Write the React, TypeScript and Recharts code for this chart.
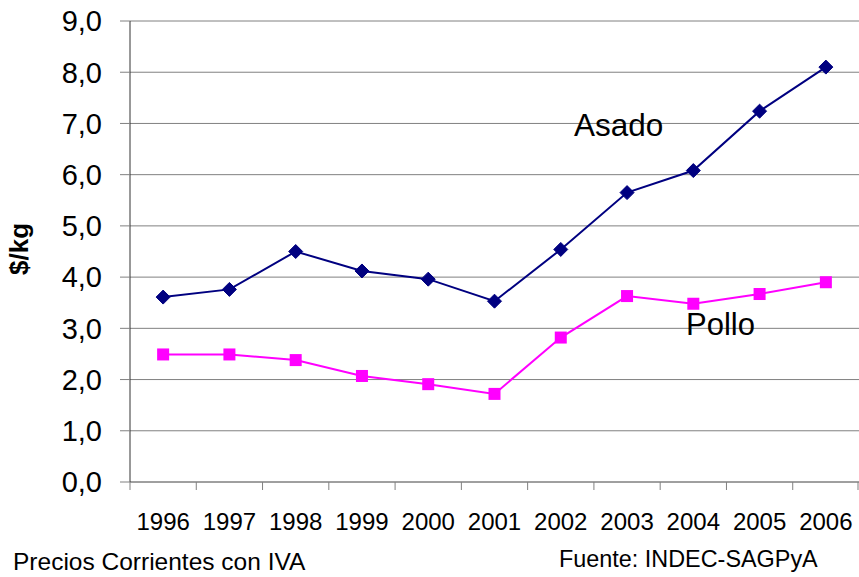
import { CartesianGrid, Line, LineChart, XAxis, YAxis } from "recharts"

const years = ["1996", "1997", "1998", "1999", "2000", "2001", "2002", "2003", "2004", "2005", "2006"]
const asado = [3.61, 3.76, 4.5, 4.12, 3.96, 3.53, 4.54, 5.65, 6.08, 7.24, 8.1]
const pollo = [2.49, 2.49, 2.38, 2.07, 1.91, 1.72, 2.82, 3.63, 3.48, 3.67, 3.9]
const yTicks = [0, 1, 2, 3, 4, 5, 6, 7, 8, 9]

const data = years.map((year, i) => ({ year, asado: asado[i], pollo: pollo[i] }))

const FONT = "'Liberation Sans', Arial, sans-serif"

function Diamond(props: any) {
  const { cx, cy } = props
  if (cx == null || cy == null) return null
  const r = 7
  return (
    <polygon
      points={`${cx},${cy - r} ${cx + r},${cy} ${cx},${cy + r} ${cx - r},${cy}`}
      fill="#000080"
      stroke="#000080"
    />
  )
}

function Square(props: any) {
  const { cx, cy } = props
  if (cx == null || cy == null) return null
  const s = 12
  return <rect x={cx - s / 2} y={cy - s / 2} width={s} height={s} fill="#ff00ff" />
}

function YearTick(props: any) {
  const { x, y, payload, index, width } = props
  const half = payload?.offset || width / years.length / 2
  const last = index === years.length - 1
  return (
    <g>
      <line x1={x - half} x2={x - half} y1={y} y2={y + 8} stroke="#808080" />
      {last && <line x1={x + half - 1} x2={x + half - 1} y1={y} y2={y + 8} stroke="#808080" />}
      <text x={x} y={y + 48} textAnchor="middle" fontSize={24} fill="#000" fontFamily={FONT}>
        {payload.value}
      </text>
    </g>
  )
}

export default function App() {
  return (
    <div style={{ position: "absolute", left: 0, top: 0, width: 859, height: 577, background: "#fff", fontFamily: FONT }}>
      <LineChart width={859} height={577} data={data} margin={{ top: 21, right: 0, left: 0, bottom: 0 }}>
        <CartesianGrid vertical={false} stroke="#808080" />
        <XAxis
          dataKey="year"
          scale="band"
          interval={0}
          height={95}
          axisLine={{ stroke: "#808080" }}
          tickLine={false}
          tickSize={0}
          tickMargin={0}
          tick={<YearTick />}
        />
        <YAxis
          width={130}
          domain={[0, 9]}
          ticks={yTicks}
          interval={0}
          tickFormatter={(v: number) => v.toFixed(1).replace(".", ",")}
          axisLine={{ stroke: "#333" }}
          tickLine={{ stroke: "#808080" }}
          tickSize={10}
          tickMargin={18}
          tick={{ fontSize: 29, fill: "#000", fontFamily: FONT }}
        />
        <Line
          dataKey="asado"
          type="linear"
          stroke="#000080"
          strokeWidth={2}
          dot={<Diamond />}
          activeDot={false}
          isAnimationActive={false}
        />
        <Line
          dataKey="pollo"
          type="linear"
          stroke="#ff00ff"
          strokeWidth={2}
          dot={<Square />}
          activeDot={false}
          isAnimationActive={false}
        />
      </LineChart>
      <svg
        width={859}
        height={577}
        style={{ position: "absolute", left: 0, top: 0, pointerEvents: "none" }}
        fontFamily={FONT}
      >
        <text x={28} y={249} transform="rotate(-90 28 249)" textAnchor="middle" fontSize={26} fontWeight="bold">
          $/kg
        </text>
        <text x={574} y={136} fontSize={31.5}>Asado</text>
        <text x={686} y={335} fontSize={31}>Pollo</text>
        <text x={13} y={570} fontSize={24.5}>Precios Corrientes con IVA</text>
        <text x={559} y={567} fontSize={23.4}>Fuente: INDEC-SAGPyA</text>
      </svg>
    </div>
  )
}
